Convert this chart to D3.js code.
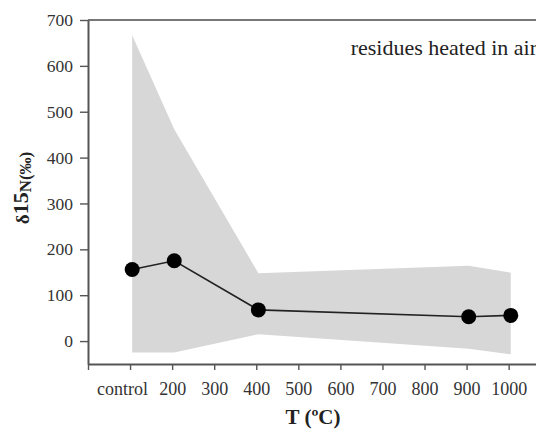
<!DOCTYPE html>
<html>
<head>
<meta charset="utf-8">
<script src="https://cdn.jsdelivr.net/npm/d3@7"></script>
<style>
  body { margin: 0; background: #fff; }
  svg { display: block; font-family: "Liberation Serif", "DejaVu Serif", serif; }
</style>
</head>
<body>
<svg id="chart" width="536" height="430"></svg>
<script>
// values
const temps = [105, 205, 405, 905, 1005];
const delta = [156, 175, 68, 53, 56];
const bandUpper = [667, 462, 148, 164, 149];
const bandLower = [-25, -25, 15, -17, -29];
const xTicks = [0, 100, 200, 300, 400, 500, 600, 700, 800, 900, 1000];
const xTickLabels = ["", "control", "200", "300", "400", "500", "600", "700", "800", "900", "1000"];
const yTicks = [0, 100, 200, 300, 400, 500, 600, 700];

const svg = d3.select("#chart");
const plotLeft = 88, plotTop = 20, plotBottom = 364, plotRight = 536;

const x = d3.scaleLinear().domain([0, 1065]).range([plotLeft, plotRight]);
const y = d3.scaleLinear().domain([-50, 700]).range([plotBottom, plotTop]);

// shaded range
const band = temps.map((t, i) => ({ t: t, lo: bandLower[i], hi: bandUpper[i] }));
svg.append("path")
  .datum(band)
  .attr("fill", "#d7d7d7")
  .attr("d", d3.area()
    .x(d => x(d.t))
    .y0(d => y(d.lo))
    .y1(d => y(d.hi)));

// top frame line
svg.append("line")
  .attr("x1", plotLeft).attr("x2", plotRight)
  .attr("y1", plotTop).attr("y2", plotTop)
  .attr("stroke", "#777").attr("stroke-width", 2);

// axes
const xAxis = svg.append("g")
  .attr("transform", `translate(0,${plotBottom})`)
  .call(d3.axisBottom(x).tickValues(xTicks)
    .tickFormat((d, i) => xTickLabels[i]).tickSize(6).tickSizeOuter(0));
const yAxis = svg.append("g")
  .attr("transform", `translate(${plotLeft},0)`)
  .call(d3.axisLeft(y).tickValues(yTicks).tickSize(8).tickSizeOuter(0));

[xAxis, yAxis].forEach(g => {
  g.select(".domain").attr("stroke", "#555").attr("stroke-width", 2);
  g.selectAll(".tick line").attr("stroke", "#555").attr("stroke-width", 1.4);
  g.selectAll(".tick text")
    .attr("fill", "#333")
    .style("font-family", "'Liberation Serif', serif")
    .style("font-size", "17.5px");
});
xAxis.selectAll(".tick text").attr("y", 31).attr("dy", 0).style("font-size", "18px");
// "control" sits a bit left of its tick in the original
xAxis.selectAll(".tick text").filter(d => d === 100).attr("dx", -8);
yAxis.selectAll(".tick text").attr("x", -15);

// data line + points
const pts = temps.map((t, i) => ({ t: t, v: delta[i] }));
svg.append("path")
  .datum(pts)
  .attr("fill", "none")
  .attr("stroke", "#222")
  .attr("stroke-width", 1.6)
  .attr("d", d3.line().x(d => x(d.t)).y(d => y(d.v)));

svg.selectAll(".pt")
  .data(pts)
  .enter()
  .append("circle")
  .attr("class", "pt")
  .attr("cx", d => x(d.t))
  .attr("cy", d => y(d.v))
  .attr("r", 7.5)
  .attr("fill", "#000");

// annotation
svg.append("text")
  .attr("x", 537).attr("y", 55)
  .attr("text-anchor", "end")
  .attr("fill", "#222")
  .style("font-size", "22px")
  .text("residues heated in air");

// axis titles
svg.append("text")
  .attr("x", 313).attr("y", 424)
  .attr("text-anchor", "middle")
  .attr("fill", "#222")
  .style("font-size", "21px")
  .style("font-weight", "bold")
  .text("T (ºC)");

const yt = svg.append("text")
  .attr("transform", "translate(29,188) rotate(-90)")
  .attr("text-anchor", "middle")
  .attr("fill", "#222")
  .style("font-weight", "bold");
yt.append("tspan").style("font-size", "19px").text("δ");
yt.append("tspan").style("font-size", "22px").attr("dy", -1).text("15");
yt.append("tspan").style("font-size", "17px").attr("dy", 3).text("N(‰)");
</script>
</body>
</html>
